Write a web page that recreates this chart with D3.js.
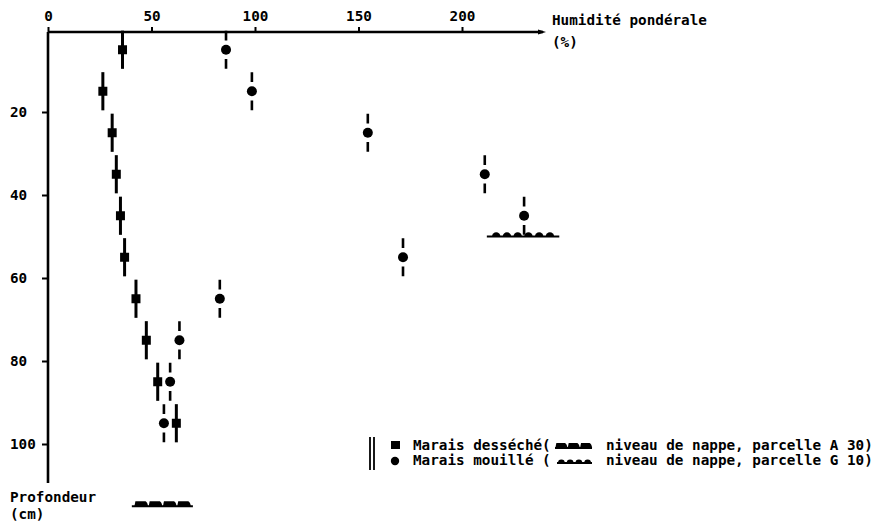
<!DOCTYPE html>
<html lang="fr">
<head>
  <meta charset="UTF-8">
  <title>Humidité pondérale - profondeur</title>
  <style>
  body { margin: 0; background: #fff; }
  svg { display: block; }
  text {
    font-family: "DejaVu Sans Mono", monospace;
    font-size: 14.3px;
    font-weight: bold;
    fill: #000;
  }
  .axis line { stroke: #000; stroke-width: 2px; }
  .axis path { display: none; }
  </style>
</head>
<body>
  <svg></svg>
  <script src="https://cdnjs.cloudflare.com/ajax/libs/d3/7.8.5/d3.min.js"></script>
  <script>

  // profondeur (cm) des prélèvements
  var depths = [5, 15, 25, 35, 45, 55, 65, 75, 85, 95];
  // humidité pondérale (%) - marais desséché (carrés)
  var desseche = [36, 26.5, 31, 33, 35, 37, 42.5, 47.5, 53, 62];
  // humidité pondérale (%) - marais mouillé (ronds)
  var mouille = [86, 98.5, 154.5, 211, 230, 171.5, 83, 63.5, 59, 56];
  var errDepth = 4.6; // demi-hauteur des barres (cm)

  var xTicks = [0, 50, 100, 150, 200];
  var yTicks = [20, 40, 60, 80, 100];

  // niveaux de nappe : [x début, x fin] en %, profondeur en cm
  var nappeA30 = { x: [40.5, 70], depth: 115, bumps: 4, shape: 'rect' };
  var nappeG10 = { x: [212, 247], depth: 50, bumps: 6, shape: 'round' };

  var width = 875, height = 526;

  var svg = d3.select('svg').attr('width', width).attr('height', height);

  var x = d3.scaleLinear().domain([0, 200]).range([48, 462]);
  var y = d3.scaleLinear().domain([0, 100]).range([29, 444]);

  var axisTop = 32, xEnd = 543, yEnd = 483;

  // axe horizontal (en haut)
  var gx = svg.append('g')
    .attr('class', 'axis')
    .attr('transform', 'translate(0,' + axisTop + ')')
    .call(d3.axisTop(x).tickValues(xTicks).tickSize(5).tickPadding(6).tickFormat(d3.format('d')));
  gx.selectAll('text').attr('font-family', null).attr('font-size', null);

  svg.append('line')
    .attr('x1', x(0)).attr('x2', xEnd)
    .attr('y1', axisTop).attr('y2', axisTop)
    .attr('stroke', '#000').attr('stroke-width', 2.4);
  svg.append('path')
    .attr('d', 'M' + (xEnd + 3) + ',' + axisTop + 'l-8,-2.5l0,5z')
    .attr('fill', '#000');

  // axe vertical (profondeur)
  var gy = svg.append('g')
    .attr('class', 'axis')
    .attr('transform', 'translate(' + x(0) + ',0)')
    .call(d3.axisLeft(y).tickValues(yTicks).tickSize(6).tickFormat(d3.format('d')));
  gy.selectAll('text')
    .attr('x', 10 - x(0))
    .attr('text-anchor', 'start')
    .attr('font-family', null).attr('font-size', null);

  svg.append('line')
    .attr('x1', x(0)).attr('x2', x(0))
    .attr('y1', axisTop).attr('y2', yEnd)
    .attr('stroke', '#000').attr('stroke-width', 2.6);

  // titres des axes
  svg.append('text').attr('x', 552).attr('y', 25).text('Humidité pondérale');
  svg.append('text').attr('x', 552).attr('y', 47).text('(%)');
  svg.append('text').attr('x', 10).attr('y', 502).text('Profondeur');
  svg.append('text').attr('x', 10).attr('y', 519).text('(cm)');

  // marais desséché : barres pleines + carrés
  var sq = svg.append('g');
  sq.selectAll('line')
    .data(depths)
    .enter()
    .append('line')
    .attr('x1', function (d, i) { return x(desseche[i]); })
    .attr('x2', function (d, i) { return x(desseche[i]); })
    .attr('y1', function (d) { return y(d - errDepth); })
    .attr('y2', function (d) { return y(d + errDepth); })
    .attr('stroke', '#000').attr('stroke-width', 3);
  sq.selectAll('rect')
    .data(depths)
    .enter()
    .append('rect')
    .attr('x', function (d, i) { return x(desseche[i]) - 4.5; })
    .attr('y', function (d) { return y(d) - 4.5; })
    .attr('width', 9).attr('height', 9)
    .attr('fill', '#000');

  // marais mouillé : barres tiretées + ronds
  var ci = svg.append('g');
  ci.selectAll('line')
    .data(depths)
    .enter()
    .append('line')
    .attr('x1', function (d, i) { return x(mouille[i]); })
    .attr('x2', function (d, i) { return x(mouille[i]); })
    .attr('y1', function (d) { return y(d - errDepth); })
    .attr('y2', function (d) { return y(d + errDepth); })
    .attr('stroke', '#000').attr('stroke-width', 2.6)
    .attr('stroke-dasharray', function (d) {
      var L = y(d + errDepth) - y(d - errDepth);
      return [L * 0.26, L * 0.48, L * 0.26].join(',');
    });
  ci.selectAll('circle')
    .data(depths)
    .enter()
    .append('circle')
    .attr('cx', function (d, i) { return x(mouille[i]); })
    .attr('cy', function (d) { return y(d); })
    .attr('r', 5)
    .attr('fill', '#000');

  // symbole "niveau de nappe"
  function nappe(g, x0, x1, yy, n, shape, pad) {
    g.append('line')
      .attr('x1', x0).attr('x2', x1).attr('y1', yy).attr('y2', yy)
      .attr('stroke', '#000').attr('stroke-width', 2.2);
    var step = (x1 - x0 - 2 * pad) / n;
    d3.range(n).forEach(function (k) {
      var cx = x0 + pad + step * (k + 0.5);
      var w = step * 0.78;
      if (shape === 'rect') {
        g.append('path')
          .attr('d', 'M' + (cx - w / 2 - 1) + ',' + yy + 'L' + (cx - w / 2) + ',' + (yy - 5) +
                'L' + (cx + w / 2 - 1) + ',' + (yy - 5) + 'Q' + (cx + w / 2 + 1) + ',' + (yy - 4) +
                ' ' + (cx + w / 2 + 1.5) + ',' + yy + 'Z')
          .attr('fill', '#000');
      } else {
        var r = Math.min(w / 2, 4.2);
        g.append('path')
          .attr('d', 'M' + (cx - r) + ',' + yy + 'A' + r + ',' + r + ' 0 0 1 ' + (cx + r) + ',' + yy + 'Z')
          .attr('fill', '#000');
      }
    });
  }

  nappe(svg.append('g'), x(nappeA30.x[0]), x(nappeA30.x[1]), y(nappeA30.depth), nappeA30.bumps, nappeA30.shape, 2);
  nappe(svg.append('g'), x(nappeG10.x[0]), x(nappeG10.x[1]), y(nappeG10.depth), nappeG10.bumps, nappeG10.shape, 4);

  // légende
  var lg = svg.append('g');
  lg.append('line').attr('x1', 370).attr('x2', 370).attr('y1', 437).attr('y2', 470)
    .attr('stroke', '#000').attr('stroke-width', 1.8);
  lg.append('line').attr('x1', 374).attr('x2', 374).attr('y1', 437).attr('y2', 470)
    .attr('stroke', '#000').attr('stroke-width', 1.8);
  lg.append('rect').attr('x', 391).attr('y', 441).attr('width', 9).attr('height', 8).attr('fill', '#000');
  lg.append('circle').attr('cx', 395).attr('cy', 461).attr('r', 4.2).attr('fill', '#000');
  lg.append('text').attr('x', 413).attr('y', 450).text('Marais desséché(');
  lg.append('text').attr('x', 413).attr('y', 465).text('Marais mouillé (');
  lg.append('text').attr('x', 606).attr('y', 450).text('niveau de nappe, parcelle A 30)');
  lg.append('text').attr('x', 606).attr('y', 465).text('niveau de nappe, parcelle G 10)');
  nappe(lg.append('g'), 555, 592, 448, 3, 'rect', 0);
  nappe(lg.append('g'), 557, 592, 463, 4, 'round', 0);

  </script>
</body>
</html>
